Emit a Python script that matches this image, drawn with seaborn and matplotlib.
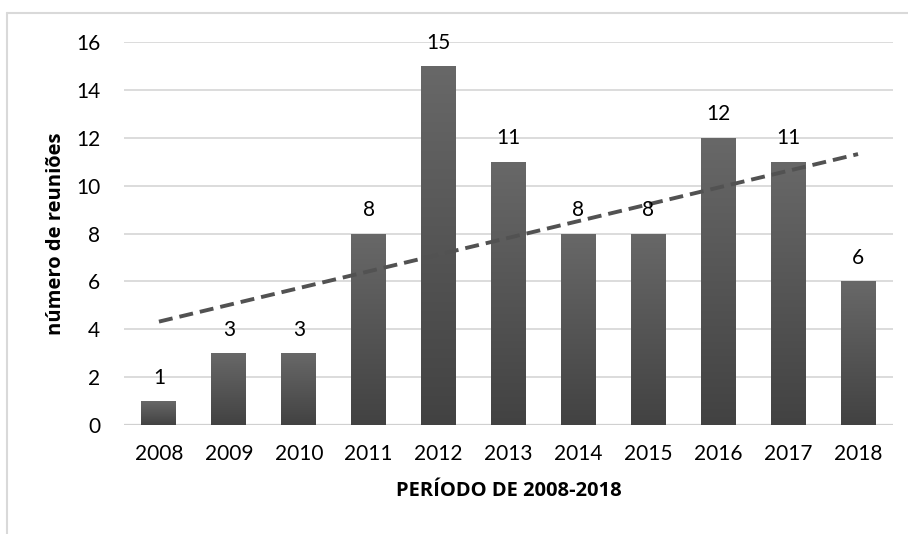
import matplotlib
matplotlib.use('Agg')
import matplotlib.pyplot as plt
import seaborn as sns
import numpy as np
import pandas as pd
from matplotlib.lines import Line2D

years = ['2008', '2009', '2010', '2011', '2012', '2013', '2014', '2015', '2016', '2017', '2018']
reunioes = [1, 3, 3, 8, 15, 11, 8, 8, 12, 11, 6]

sns.set_theme(style='white')
plt.rcParams['font.family'] = ['Lato', 'DejaVu Sans']

df = pd.DataFrame({'ano': years, 'reunioes': reunioes})

fig = plt.figure(figsize=(9.08, 5.34), dpi=100)
ax = fig.add_axes([124 / 908, 1 - 425 / 534, (893 - 124) / 908, (425 - 42) / 534])

sns.barplot(data=df, x='ano', y='reunioes', color='#555555', width=0.5, ax=ax, zorder=3)

# gradient fill, lighter at the top of each bar
grad = np.linspace(0, 1, 256).reshape(-1, 1)
cmap = matplotlib.colors.LinearSegmentedColormap.from_list('g', ['#424242', '#686868'])
for p in ax.patches:
    x0, y0 = p.get_x(), p.get_y()
    w, h = p.get_width(), p.get_height()
    im = ax.imshow(grad, cmap=cmap, aspect='auto', origin='lower',
                   extent=[x0, x0 + w, y0, y0 + h], zorder=3)
    im.set_clip_path(p)
    p.set_facecolor('none')
    p.set_edgecolor('none')

# linear trend line
xs = np.arange(len(reunioes))
k, b = np.polyfit(xs, reunioes, 1)
ax.plot(xs, k * xs + b, color='#525252', lw=2.8, ls=(0, (3.6, 1.8)),
        zorder=4, dash_capstyle='butt')

for i, v in enumerate(reunioes):
    ax.annotate(str(v), (i, v), xytext=(0, 12.5), textcoords='offset points',
                ha='center', va='baseline', fontsize=15, color='black', zorder=5)

ax.set_xlim(-0.5, len(years) - 0.5)
ax.set_ylim(0, 16)
ax.set_yticks(range(0, 17, 2))
ax.yaxis.grid(True, color='#d9d9d9', lw=1.3, zorder=0)
ax.xaxis.grid(False)
for s in ax.spines.values():
    s.set_visible(False)
ax.axhline(0, color='#d0d0d0', lw=1.6, zorder=2)
ax.tick_params(axis='both', length=0, labelsize=15, colors='black')
ax.tick_params(axis='y', pad=17)
ax.tick_params(axis='x', pad=14)

lbl_font = dict(family=['Open Sans', 'DejaVu Sans'], size=14.5, weight='bold')
ax.set_xlabel('PERÍODO DE 2008-2018', fontdict=lbl_font, labelpad=12, color='black')
ax.set_ylabel('número de reuniões', fontdict=lbl_font, labelpad=7, color='black')

# chart frame, cut off on the right and bottom
fig.add_artist(Line2D([7 / 908, 1], [1 - 13 / 534, 1 - 13 / 534], transform=fig.transFigure, color='#d9d9d9', lw=1.5))
fig.add_artist(Line2D([7 / 908, 7 / 908], [0, 1 - 13 / 534], transform=fig.transFigure, color='#d9d9d9', lw=1.5))

fig.savefig('out.png', dpi=100)
